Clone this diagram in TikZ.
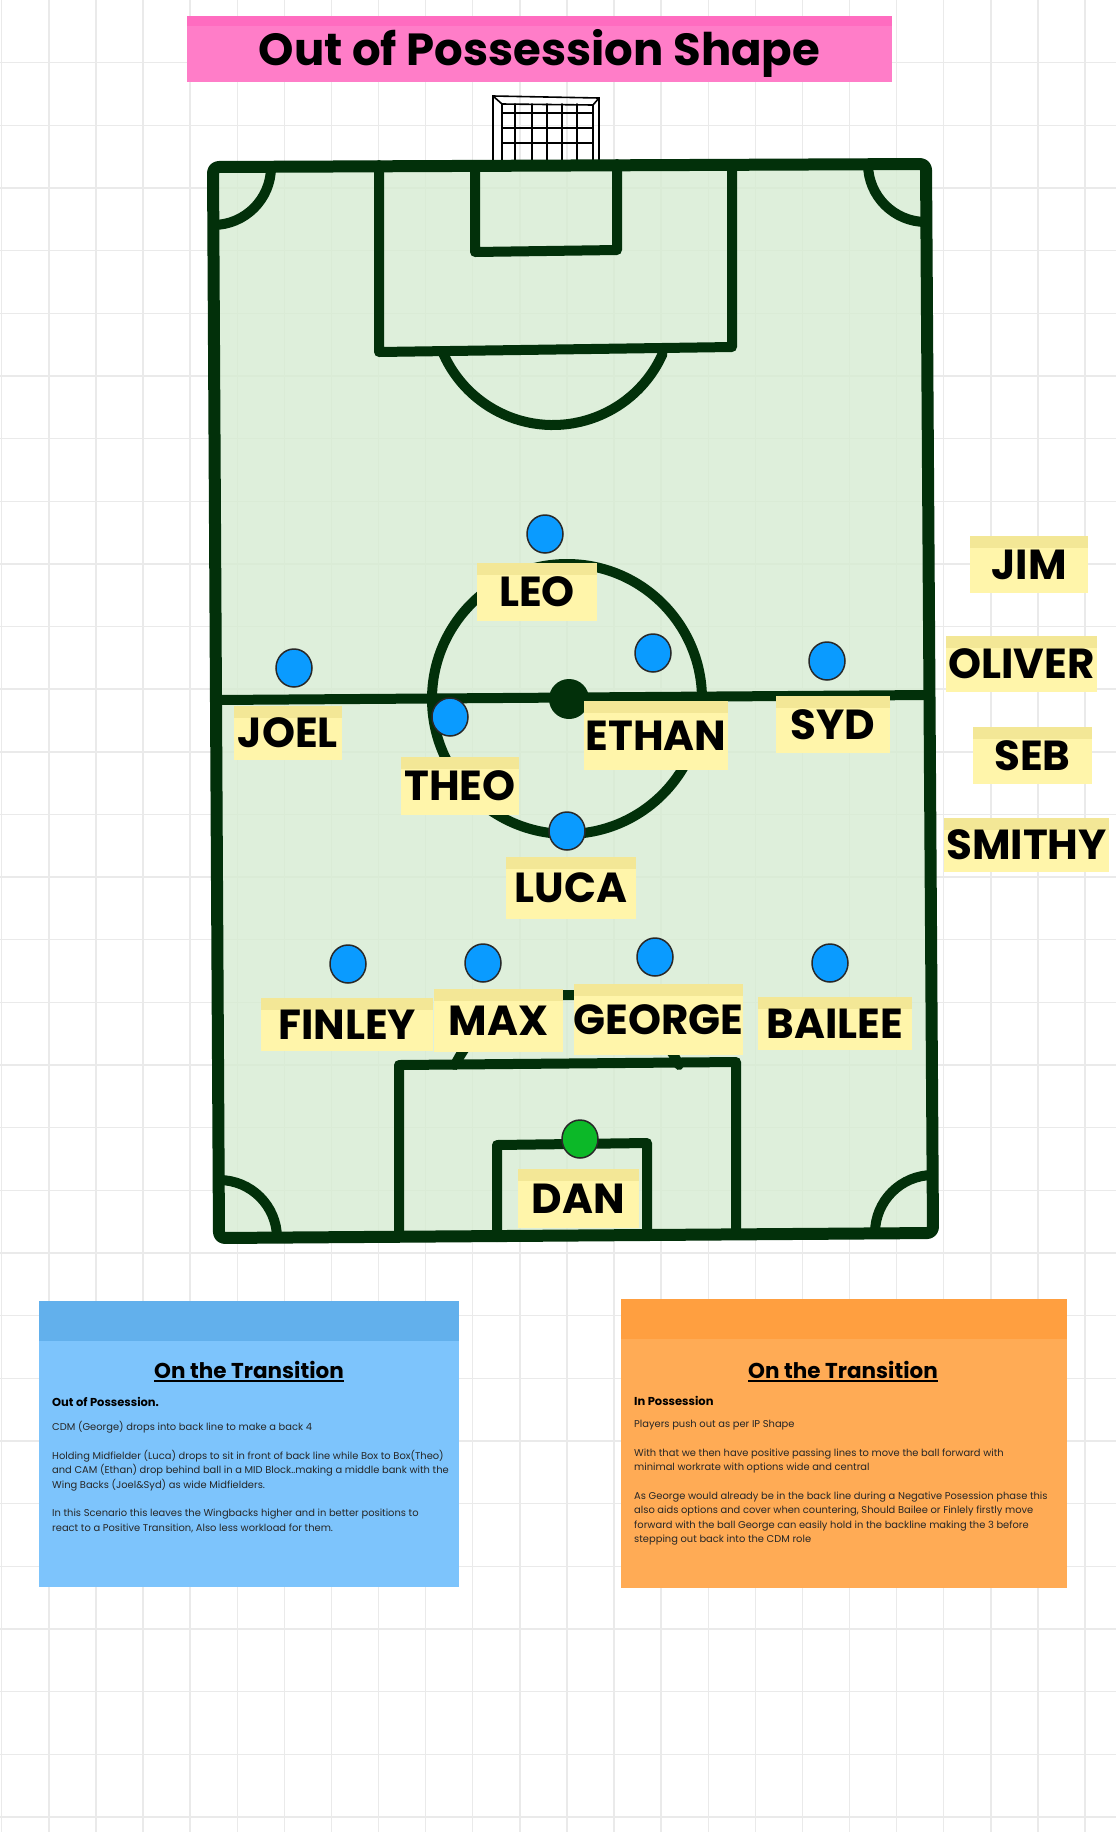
\documentclass[tikz,border=0pt]{standalone}
\usepackage{fontspec}
\setmainfont{Poppins}
\usepackage{tikz}
\usetikzlibrary{shapes.geometric, positioning}
\usepackage{xcolor}
\definecolor{gridGrey}{RGB}{234,234,234}
\definecolor{pitchLine}{RGB}{2,48,10}
\definecolor{pitchGreen}{RGB}{214,236,210}
\definecolor{playerBlue}{RGB}{10,155,255}
\definecolor{keeperGreen}{RGB}{12,184,40}
\definecolor{dotEdge}{RGB}{40,40,40}
\definecolor{noteYellow}{RGB}{255,245,170}
\definecolor{noteBand}{RGB}{243,231,150}
\definecolor{titlePink}{RGB}{255,125,200}
\definecolor{titleBand}{RGB}{255,108,192}
\definecolor{oopBlue}{RGB}{125,196,252}
\definecolor{oopBand}{RGB}{98,176,236}
\definecolor{ipOrange}{RGB}{255,171,85}
\definecolor{ipBand}{RGB}{255,159,64}

\begin{document}
\begin{tikzpicture}[
    x=1pt, y=1pt,
    gridline/.style={draw=gridGrey, line width=1.4},
    marking/.style={draw=pitchLine, line width=10, line cap=round, line join=round},
    netline/.style={draw=black, line width=1.6, line cap=round},
    player/.style={ellipse, draw=dotEdge, line width=1.5, fill=playerBlue, minimum width=36, minimum height=38, inner sep=0},
    tag/.style={rectangle, fill=noteYellow, inner sep=0, text height=29.5, text depth=0, font=\fontsize{42}{44}\selectfont\bfseries,
        path picture={\fill[noteBand] (path picture bounding box.north west) rectangle ([yshift=-12]path picture bounding box.north east);}},
    card/.style={rectangle, inner sep=0, minimum width=#1},
    cardtitle/.style={inner sep=0, font=\fontsize{21.5}{24}\selectfont\bfseries},
    cardhead/.style={inner sep=0, anchor=base west, font=\fontsize{11.5}{13}\selectfont\bfseries},
    cardtext/.style={inner sep=0, anchor=north west, align=left, text=black!85, font=\fontsize{9.9}{14.4}\selectfont}
]

\useasboundingbox (0,0) rectangle (1116,-1832);
\fill[white] (0,0) rectangle (1116,-1832);

% Grid
\foreach \gx in {0,...,23}
    \draw[gridline] ({1.7+47.1*\gx},0) -- ({1.7+47.1*\gx},-1832);
\foreach \gy in {1,...,29}
    \draw[gridline] (0,{-62.65*\gy}) -- (1116,{-62.65*\gy});

% Title
\node[rectangle, fill=titlePink, minimum width=705, minimum height=66, inner sep=0, text height=32, text depth=0,
    font=\fontsize{45}{48}\selectfont\bfseries,
    path picture={\fill[titleBand] (path picture bounding box.north west) rectangle ([yshift=-10]path picture bounding box.north east);}]
    (title) at (539.5,-49) {Out of Possession Shape};

% Goal
\draw[netline] (493,-161) -- (493,-96) -- (599,-98) -- (599,-161);
\draw[netline] (502,-161) -- (502,-104) -- (593,-105) -- (593,-161);
\draw[netline] (493,-96) -- (502,-104);
\draw[netline] (599,-98) -- (593,-105);
\foreach \nx in {515,532,547,562,577}
    \draw[netline] (\nx,-104) -- (\nx,-161);
\foreach \ny in {113,128,143}
    \draw[netline] (502,-\ny) -- (593,-\ny);

% Pitch
\coordinate (tl) at (213,-167);
\coordinate (tr) at (926,-164);
\coordinate (br) at (933,-1233);
\coordinate (bl) at (219,-1238);
\fill[pitchGreen, fill opacity=0.8] (tl) -- (tr) -- (br) -- (bl) -- cycle;
\draw[marking, line width=12, rounded corners=6] (tl) -- (tr) -- (br) -- (bl) -- cycle;
\draw[marking] (216,-700) -- (929,-695);
\draw[marking] (567,-699) circle[radius=135];
\fill[pitchLine] (569,-699) circle[radius=20];

% top end
\draw[marking] (379,-165) -- (379,-352) -- (732,-347) -- (732,-164);
\draw[marking] (475,-165) -- (475,-252) -- (617,-250) -- (617,-164);
\draw[marking] (662.6,-353.8) arc[start angle=-24, end angle=-156, radius=120];

% bottom end
\draw[marking] (399,-1236) -- (399,-1065) -- (736,-1062) -- (736,-1234);
\draw[marking] (497,-1237) -- (497,-1145) -- (647,-1143) -- (647,-1234);
\draw[marking] (679,-1065) arc[start angle=26, end angle=154, radius=124.6];

% corners
\draw[marking] ([yshift=-58]tl) arc[start angle=-90, end angle=0, radius=58];
\draw[marking] ([xshift=-58]tr) arc[start angle=180, end angle=270, radius=58];
\draw[marking] ([yshift=58]br) arc[start angle=90, end angle=180, radius=58];
\draw[marking] ([xshift=58]bl) arc[start angle=0, end angle=90, radius=58];

% Players
\node[player] (leoDot) at (545,-534) {};
\node[player] (joelDot) at (294,-668) {};
\node[player] (ethanDot) at (653,-653) {};
\node[player] (sydDot) at (827,-661) {};
\node[player] (theoDot) at (450,-717) {};
\node[player] (lucaDot) at (567,-831) {};
\node[player] (finleyDot) at (348,-964) {};
\node[player] (maxDot) at (483,-963) {};
\node[player] (georgeDot) at (655,-957) {};
\node[player] (baileeDot) at (830,-963) {};
\node[player, fill=keeperGreen] (danDot) at (580,-1139) {};

% Names
\node[tag, minimum width=120, minimum height=58] (leo) at (537,-592) {LEO};
\node[tag, minimum width=108, minimum height=54] (joel) at (288,-733) {JOEL};
\node[tag, minimum width=118, minimum height=58] (theo) at (460,-786) {THEO};
\node[tag, minimum width=144, minimum height=69] (ethan) at (656,-735.5) {ETHAN};
\node[tag, minimum width=114, minimum height=57] (syd) at (833,-724.5) {SYD};
\node[tag, minimum width=130, minimum height=62] (luca) at (571,-888) {LUCA};
\node[tag, minimum width=172, minimum height=53] (finley) at (347,-1024.5) {FINLEY};
\node[tag, minimum width=129, minimum height=63] (max) at (498.5,-1020.5) {MAX};
\node[tag, minimum width=169, minimum height=71] (george) at (658.5,-1019.5) {GEORGE};
\node[tag, minimum width=154, minimum height=53] (bailee) at (835,-1023.5) {BAILEE};
\node[tag, minimum width=121, minimum height=59] (dan) at (578.5,-1198.5) {DAN};

% Subs
\node[tag, minimum width=118, minimum height=57] (jim) at (1029,-564.5) {JIM};
\node[tag, minimum width=151, minimum height=56] (oliver) at (1021.5,-664) {OLIVER};
\node[tag, minimum width=119, minimum height=57] (seb) at (1032.5,-755.5) {SEB};
\node[tag, minimum width=165, minimum height=54] (smithy) at (1026.5,-845) {SMITHY};

% Out of possession card
\node[card=420, minimum height=286, fill=oopBlue,
    path picture={\fill[oopBand] (path picture bounding box.north west) rectangle ([yshift=-40]path picture bounding box.north east);}]
    (oopCard) at (249,-1444) {};
\node[cardtitle, anchor=base] (oopTitle) at (249,-1378) {On the Transition};
\draw[line width=2] ([yshift=-2.5]oopTitle.base west) -- ([yshift=-2.5]oopTitle.base east);
\node[cardhead] (oopHead) at (52,-1406) {Out of Possession.};
\node[cardtext] (oopText) at (52,-1421) {CDM (George) drops into back line to make a back 4\\[14.4pt]
Holding Midfielder (Luca) drops to sit in front of back line while Box to Box(Theo)\\
and CAM (Ethan) drop behind ball in a MID Block..making a middle bank with the\\
Wing Backs (Joel\&Syd) as wide Midfielders.\\[14.4pt]
In this Scenario this leaves the Wingbacks higher and in better positions to\\
react to a Positive Transition, Also less workload for them.};

% In possession card
\node[card=446, minimum height=289, fill=ipOrange,
    path picture={\fill[ipBand] (path picture bounding box.north west) rectangle ([yshift=-40]path picture bounding box.north east);}]
    (ipCard) at (844,-1443.5) {};
\node[cardtitle, anchor=base] (ipTitle) at (843,-1378) {On the Transition};
\draw[line width=2] ([yshift=-2.5]ipTitle.base west) -- ([yshift=-2.5]ipTitle.base east);
\node[cardhead] (ipHead) at (634,-1405) {In Possession};
\node[cardtext] (ipText) at (634,-1420) {Players push out as per IP Shape\\[14.4pt]
With that we then have positive passing lines to move the ball forward with\\
minimal workrate with options wide and central\\[14.4pt]
As George would already be in the back line during a Negative Posession phase this\\
also aids options and cover when countering, Should Bailee or Finlely firstly move\\
forward with the ball George can easily hold in the backline making the 3 before\\
stepping out back into the CDM role};

\end{tikzpicture}
\end{document}
